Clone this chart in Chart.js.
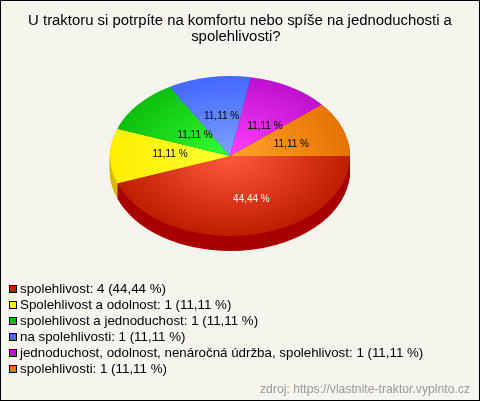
<!DOCTYPE html>
<html>
<head>
<meta charset="utf-8">
<script src="https://cdn.jsdelivr.net/npm/chart.js@4/dist/chart.umd.min.js"></script>
<style>html,body{margin:0;padding:0;background:#f5f5ee}canvas{display:block}</style>
</head>
<body>
<div style="width:480px;height:401px"><canvas id="c" width="480" height="401"></canvas></div>
<script>
const titleLines = ["U traktoru si potrpíte na komfortu nebo spíše na jednoduchosti a", "spolehlivosti?  "];
const categories = ["spolehlivost", "Spolehlivost a odolnost", "spolehlivost a jednoduchost", "na spolehlivosti", "jednoduchost, odolnost, nenáročná údržba, spolehlivost", "spolehlivosti"];
const values = [4, 1, 1, 1, 1, 1];
const percents = ["44,44 %", "11,11 %", "11,11 %", "11,11 %", "11,11 %", "11,11 %"];
const sourceText = "zdroj: https://vlastnite-traktor.vyplnto.cz";

const innerColors = ["#ff5a3c", "#ffff33", "#33ff33", "#80a0ff", "#ff40ff", "#ffa52a"];
const outerColors = ["#bf1d00", "#ffee00", "#0cbf0c", "#4268ff", "#bf10cf", "#e67300"];
const sideColors  = ["#a80000", "#d9b800", "#089008", "#3050c0", "#900a9c", "#b05800"];
const swatchColors = ["#c42100", "#ffee00", "#11bb11", "#4a6cf0", "#c010d0", "#e87800"];
const labelColors = ["#ffffff", "#000000", "#000000", "#000000", "#000000", "#000000"];
const labelNudgeX = [11, 0, 11, 2, 5, 5];
const labelNudgeY = [4, -2, 5, 0, 5, 2];

const BG = "#f5f5ee", FONT = '"Liberation Sans", Arial, sans-serif';
const SQUASH = 2 / 3, DEPTH = 15, RADIUS = 120, LABEL_R = 60;

function squash(ctx, x, y) {
  ctx.translate(x, y); ctx.scale(1, SQUASH); ctx.translate(-x, -y);
}

const pie3d = {
  id: "pie3d",
  beforeDraw(chart) {
    const { ctx, width, height } = chart;
    ctx.save();
    ctx.fillStyle = BG; ctx.fillRect(0, 0, width, height);
    ctx.strokeStyle = "#000"; ctx.lineWidth = 1;
    ctx.strokeRect(0.5, 0.5, width - 1, height - 1);
    ctx.restore();
  },
  afterLayout(chart) {
    const t = chart.titleBlock;
    if (t) { t.left = 0; t.right = chart.width; t.width = chart.width; }
  },
  beforeDatasetsDraw(chart) {
    const { ctx } = chart;
    const arcs = chart.getDatasetMeta(0).data;
    const { x, y } = arcs[0];
    ctx.save();
    for (let d = DEPTH; d >= 1; d--) {
      arcs.forEach((a, i) => {
        const p = a.getProps(["x", "y", "startAngle", "endAngle", "outerRadius"]);
        ctx.save();
        ctx.translate(0, d);
        squash(ctx, x, y);
        ctx.fillStyle = sideColors[i];
        ctx.beginPath();
        ctx.moveTo(p.x, p.y);
        ctx.arc(p.x, p.y, p.outerRadius, p.startAngle, p.endAngle);
        ctx.closePath();
        ctx.fill();
        ctx.restore();
      });
    }
    ctx.restore();
    ctx.save();
    squash(ctx, x, y);
  },
  afterDatasetsDraw(chart) {
    const { ctx } = chart;
    ctx.restore();
    const arcs = chart.getDatasetMeta(0).data;
    ctx.save();
    ctx.font = "10px " + FONT;
    ctx.textAlign = "center";
    ctx.textBaseline = "middle";
    arcs.forEach((a, i) => {
      const mid = (a.startAngle + a.endAngle) / 2;
      const lx = a.x + Math.cos(mid) * LABEL_R + labelNudgeX[i];
      const ly = a.y + Math.sin(mid) * LABEL_R * SQUASH + labelNudgeY[i];
      ctx.fillStyle = labelColors[i];
      ctx.fillText(percents[i], lx, ly);
    });
    ctx.restore();
  },
  afterDraw(chart) {
    const { ctx } = chart;
    ctx.save();
    ctx.font = "13.33px " + FONT;
    ctx.textBaseline = "middle";
    categories.forEach((c, i) => {
      const y = 289 + i * 16;
      ctx.fillStyle = swatchColors[i];
      ctx.fillRect(10, y - 3, 6, 6);
      ctx.strokeStyle = "#000";
      ctx.lineWidth = 1;
      ctx.strokeRect(9.5, y - 3.5, 7, 7);
      ctx.fillStyle = "#000";
      ctx.textAlign = "left";
      ctx.fillText(c + ": " + values[i] + " (" + percents[i] + ")", 20, y);
    });
    ctx.font = "12.2px " + FONT;
    ctx.fillStyle = "#999";
    ctx.textAlign = "right";
    ctx.fillText(sourceText, 470, 390);
    ctx.restore();
  }
};

new Chart(document.getElementById("c"), {
  type: "pie",
  plugins: [pie3d],
  data: {
    labels: categories,
    datasets: [{
      data: values,
      borderWidth: 0,
      backgroundColor(ctx) {
        const i = ctx.dataIndex;
        const area = ctx.chart.chartArea;
        if (!area || i === undefined) return outerColors[i || 0];
        const x = (area.left + area.right) / 2, y = (area.top + area.bottom) / 2;
        const g = ctx.chart.ctx.createRadialGradient(x, y, 0, x, y, RADIUS);
        g.addColorStop(0, innerColors[i]);
        g.addColorStop(1, outerColors[i]);
        return g;
      }
    }]
  },
  options: {
    responsive: false,
    animation: false,
    rotation: 90,
    radius: RADIUS,
    layout: { padding: { left: 110, right: 130, top: 0, bottom: 134.2 } },
    plugins: {
      legend: { display: false },
      tooltip: { enabled: false },
      title: {
        display: true,
        text: titleLines,
        color: "#000",
        font: { family: FONT, size: 14.9, weight: "normal", lineHeight: 1.08 },
        padding: { top: 13, bottom: 0 }
      }
    }
  }
});
</script>
</body>
</html>
